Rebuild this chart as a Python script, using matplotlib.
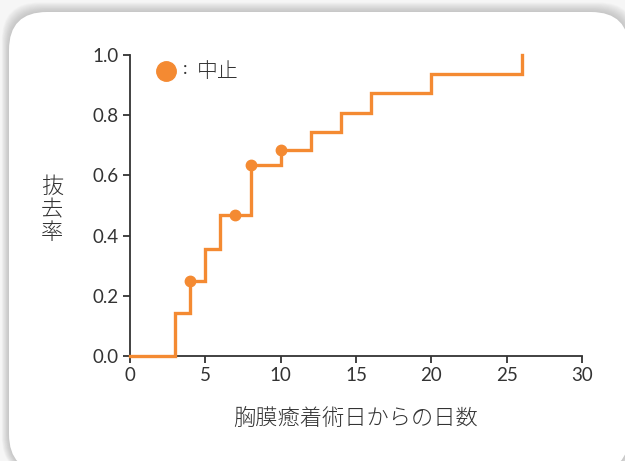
import matplotlib
matplotlib.use('Agg')
import matplotlib.pyplot as plt
from matplotlib.patches import FancyBboxPatch

plt.rcParams['font.family'] = ['Lato', 'Noto Sans CJK JP', 'DejaVu Sans']

# removal curve (days from pleurodesis, cumulative rate)
days = [0, 3, 4, 5, 6, 8, 10, 12, 14, 16, 20, 26]
rate = [0.0, 0.143, 0.25, 0.357, 0.47, 0.635, 0.685, 0.745, 0.808, 0.873, 0.936, 1.0]

# discontinued cases
stop_days = [4, 7, 8, 10]
stop_rate = [0.25, 0.47, 0.635, 0.685]

xticks = [0, 5, 10, 15, 20, 25, 30]
yticks = [0.0, 0.2, 0.4, 0.6, 0.8, 1.0]

orange = '#F48A32'
dark = '#333333'
jp = ['Noto Sans CJK JP', 'DejaVu Sans']

fig = plt.figure(figsize=(6.25, 4.61), dpi=100, facecolor='#f6f6f6')

# card with a soft shadow
bg = fig.add_axes([0, 0, 1, 1])
bg.set_xlim(0, 625)
bg.set_ylim(461, 0)
bg.axis('off')
for i in range(12, 0, -1):
    bg.add_patch(FancyBboxPatch((9 - i * 0.6, 12 - i * 0.8), 620 + i * 1.2, 460 + i,
                                boxstyle='round,pad=0,rounding_size=38',
                                fc='#8a8a8a', ec='none', alpha=0.04))
bg.add_patch(FancyBboxPatch((9, 12), 620, 460,
                            boxstyle='round,pad=0,rounding_size=38',
                            fc='white', ec='none'))

ax = fig.add_axes([130 / 625, 1 - 356 / 461, 452 / 625, 301 / 461])
ax.set_facecolor('none')
ax.step(days, rate, where='post', color=orange, lw=2.4, clip_on=False,
        solid_joinstyle='miter', zorder=3)
ax.plot(stop_days, stop_rate, 'o', color=orange, ms=7.5, clip_on=False, zorder=4)

ax.set_xlim(0, 30)
ax.set_ylim(0, 1)
ax.set_xticks(xticks)
ax.set_yticks(yticks)
ax.set_yticklabels([f'{v:.1f}' for v in yticks])
for s in ['top', 'right']:
    ax.spines[s].set_visible(False)
for s in ['left', 'bottom']:
    ax.spines[s].set_color(dark)
    ax.spines[s].set_linewidth(1.3)
ax.tick_params(direction='out', length=5, width=1.3, color=dark,
               labelcolor=dark, labelsize=13.5, pad=3)

ax.set_xlabel('胸膜癒着術日からの日数', family=jp, fontsize=16, fontweight='light',
              color=dark, labelpad=17)
fig.text(52 / 625, 1 - 210 / 461, '抜\n去\n率', family=jp, fontsize=16,
         fontweight='light', color=dark, ha='center', va='center',
         linespacing=1.05)

# legend
ax.plot([0.079], [0.948], 'o', color=orange, ms=14, transform=ax.transAxes,
        clip_on=False)
ax.text(0.118, 0.952, ':', fontsize=13, color=dark,
        transform=ax.transAxes, ha='left', va='center')
ax.text(0.147, 0.948, '中止', family=jp, fontsize=15, fontweight='light',
        color=dark, transform=ax.transAxes, ha='left', va='center')

fig.savefig('out.png', dpi=100, facecolor=fig.get_facecolor())
